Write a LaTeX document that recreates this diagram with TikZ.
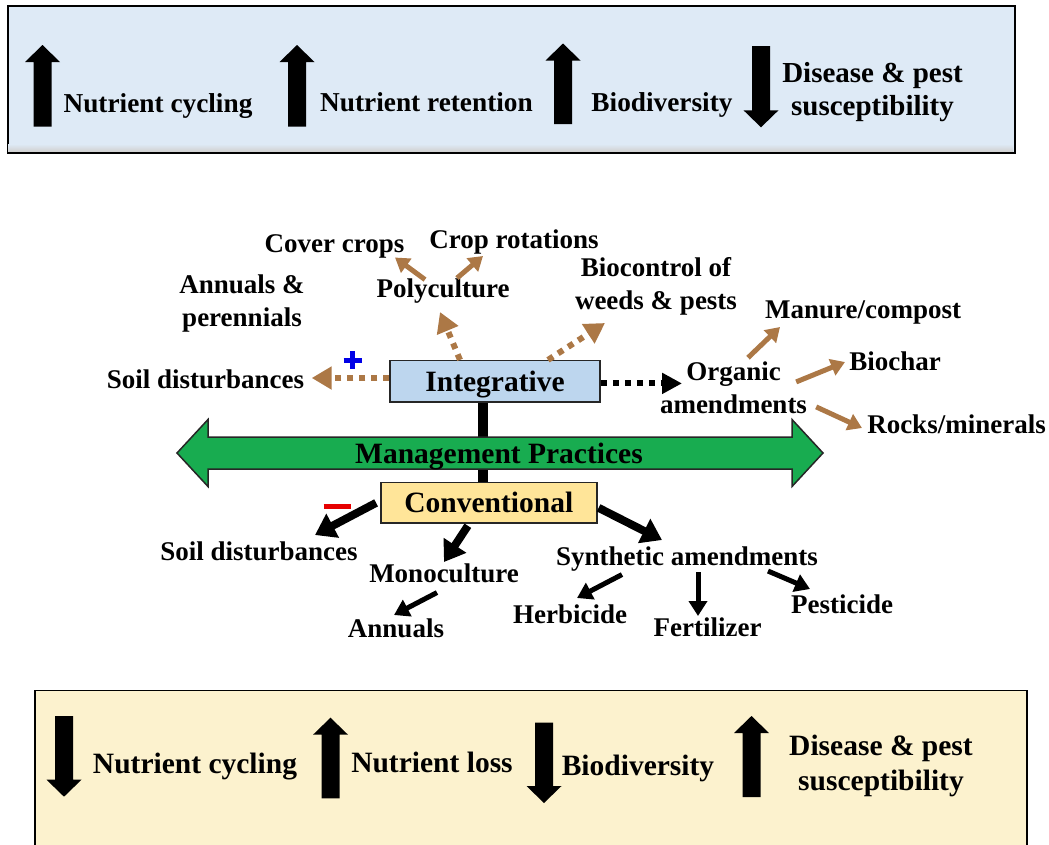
\documentclass[tikz,border=0pt]{standalone}
\usepackage{fontspec}
\setmainfont{Liberation Serif}
\usetikzlibrary{arrows.meta}
\definecolor{topblue}{RGB}{222,234,246}
\definecolor{intblue}{RGB}{189,214,238}
\definecolor{convyel}{RGB}{255,229,153}
\definecolor{botcream}{RGB}{252,242,206}
\definecolor{mgreen}{RGB}{24,172,80}
\definecolor{brownarr}{RGB}{172,120,70}
\definecolor{plusblue}{RGB}{0,0,230}
\definecolor{minusred}{RGB}{230,0,0}
% block arrows: x, tip y, tail y  /  x, top y, tip y
\newcommand{\blkup}[3]{\fill (#1-9,#3) -- (#1-9,#2+17) -- (#1-17.5,#2+17) -- (#1,#2) -- (#1+17.5,#2+17) -- (#1+9,#2+17) -- (#1+9,#3) -- cycle;}
\newcommand{\blkdown}[3]{\fill (#1-9,#2) -- (#1-9,#3-17) -- (#1-17.5,#3-17) -- (#1,#3) -- (#1+17.5,#3-17) -- (#1+9,#3-17) -- (#1+9,#2) -- cycle;}
\newcommand{\twolines}[2]{\begin{tabular}[t]{@{}c@{}}#1\\#2\end{tabular}}
\tikzset{
  lbl/.style={font=\fontsize{27}{33}\selectfont\bfseries, inner sep=0pt, anchor=base},
  lbltop/.style={lbl, font=\fontsize{27.3}{33}\selectfont\bfseries},
  lbltopb/.style={lbl, font=\fontsize{29}{33}\selectfont\bfseries},
  lblbot/.style={lbl, font=\fontsize{29.5}{35}\selectfont\bfseries},
  panel/.style={draw=black, line width=1.5pt, inner sep=0pt, anchor=north west},
  mbox/.style={draw=black!85, line width=1.5pt, inner sep=0pt, font=\fontsize{29.5}{35}\selectfont\bfseries},
  bdot/.style={brownarr, line width=6pt, dash pattern=on 6pt off 6pt, -{Triangle[length=20pt,width=22pt]}},
  kdot/.style={black, line width=6pt, dash pattern=on 6pt off 6pt, -{Triangle[length=20pt,width=20pt]}},
  barr/.style={brownarr, line width=5pt, -{Triangle[length=14pt,width=17pt]}},
  karr/.style={black, line width=8pt, -{Triangle[length=20pt,width=26pt]}},
  ksmall/.style={black, line width=5pt, -{Triangle[length=15pt,width=18pt]}}
}
\begin{document}
\begin{tikzpicture}[x=1pt,y=-1pt]
\useasboundingbox (0,0) rectangle (1049,844);
\clip (0,0) rectangle (1049,844);

% ---------- top panel ----------
\node[panel, fill=topblue, minimum width=1007pt, minimum height=147pt] (toppanel) at (7,5) {};
\shade[top color=topblue, bottom color=black!18] (8,144) rectangle (1013,151.2);
\blkup{42.5}{45}{126.7}
\blkup{297}{45}{126.7}
\blkup{563}{43.5}{124}
\blkdown{761}{46}{127.3}
\node[lbltop] (tnc) at (158,112) {Nutrient cycling};
\node[lbltop] (tnr) at (426.5,111) {Nutrient retention};
\node[lbltop] (tbd) at (662,111) {Biodiversity};
\node[lbltopb] (tds) at (872.5,82) {\twolines{Disease \& pest}{susceptibility}};

% ---------- bottom panel ----------
\node[panel, fill=botcream, minimum width=992pt, minimum height=200pt] (botpanel) at (34,689.5) {};
\blkdown{64}{716}{796.7}
\blkup{330.5}{717.7}{798.3}
\blkdown{544}{722.7}{803}
\blkup{751.5}{716}{797}
\node[lblbot] (bnc) at (195,773.5) {Nutrient cycling};
\node[lblbot] (bnl) at (432,772.5) {Nutrient loss};
\node[lblbot] (bbd) at (638,775) {Biodiversity};
\node[lblbot] (bds) at (881,755) {\twolines{Disease \& pest}{susceptibility}};

% ---------- central boxes ----------
\node[mbox, fill=intblue, minimum width=210pt, minimum height=41.5pt, text depth=0pt] (integ) at (495,381.4) {Integrative};
\node[mbox, fill=convyel, minimum width=216pt, minimum height=40.3pt] (conv) at (488.85,502.85) {Conventional};
\draw[line width=10pt] ([xshift=-12pt]integ.south) -- ([xshift=-5.85pt]conv.north);
\draw[fill=mgreen, draw=black!85, line width=1.5pt] (177,453) -- (208,419.5) -- (208,437) -- (792,437) -- (792,419.5) -- (823,453) -- (792,486.5) -- (792,469) -- (208,469) -- (208,486.5) -- cycle;
\node[lbl, font=\fontsize{29.5}{35}\selectfont\bfseries] (mp) at (499,463) {Management Practices};

% plus / minus
\draw[plusblue, line width=5pt] (343.5,360) -- (361.5,360) (352.5,351) -- (352.5,369);
\draw[minusred, line width=5.5pt] (323.5,506.5) -- (350.5,506.5);

% ---------- integrative side labels ----------
\node[lbl] (soilI) at (205.5,388) {Soil disturbances};
\node[lbl] (annp) at (242,293) {\twolines{Annuals \&}{perennials}};
\node[lbl] (poly) at (443,297) {Polyculture};
\node[lbl] (cover) at (334.5,252) {Cover crops};
\node[lbl] (rot) at (514,248) {Crop rotations};
\node[lbl] (bioc) at (656,276) {\twolines{Biocontrol of}{weeds \& pests}};
\node[lbl] (org) at (733.5,380) {\twolines{Organic}{amendments}};
\node[lbl] (manure) at (863,318) {Manure/compost};
\node[lbl] (biochar) at (895,370) {Biochar};
\node[lbl] (rocks) at (956.5,433) {Rocks/minerals};

\coordinate (tSoilI) at (311.7,378);
\coordinate (tPoly) at (440,312);
\coordinate (tBioc) at (605,323);
\coordinate (tOrg) at (682,383.4);
\coordinate (tCover) at (395,257.5);
\coordinate (tRot) at (483,256);
\coordinate (tManure) at (780,327);
\coordinate (tBiochar) at (845,362);
\coordinate (tRocks) at (862,428);

\draw[bdot] ([yshift=3.4pt]integ.west) -- (tSoilI);
\draw[bdot] ([xshift=-35pt]integ.north) -- (tPoly);
\draw[bdot] ([xshift=53pt]integ.north) -- (tBioc);
\draw[kdot] ([yshift=-2pt]integ.east) -- (tOrg);
\draw[barr] ([xshift=-18pt,yshift=-1.5pt]poly.north) -- (tCover);
\draw[barr] ([xshift=14pt]poly.north) -- (tRot);
\draw[barr] ([xshift=14.5pt,yshift=-1pt]org.north) -- (tManure);
\draw[barr] ([xshift=-11pt,yshift=8pt]org.east) -- (tBiochar);
\draw[barr] ([xshift=9pt,yshift=-17pt]org.east) -- (tRocks);

% ---------- conventional side labels ----------
\node[lbl] (soilC) at (259,560) {Soil disturbances};
\node[lbl] (mono) at (444,582) {Monoculture};
\node[lbl] (annC) at (396,637) {Annuals};
\node[lbl] (synth) at (687,565) {Synthetic amendments};
\node[lbl] (herb) at (570,623) {Herbicide};
\node[lbl] (fert) at (707.5,636) {Fertilizer};
\node[lbl] (pest) at (842,613.5) {Pesticide};

\coordinate (tSoilC) at (315,535);
\coordinate (tMono) at (444,562);
\coordinate (tSynth) at (662,540);
\coordinate (tAnn) at (394,615);
\coordinate (tHerb) at (577,598);
\coordinate (tFert) at (698,616);
\coordinate (tPest) at (810,589);

\draw[karr] ([xshift=-4pt]conv.west) -- (tSoilC);
\draw[karr] ([xshift=-21pt,yshift=-2pt]conv.south) -- (tMono);
\draw[karr] ([xshift=1pt,yshift=-5pt]conv.east) -- (tSynth);
\draw[ksmall] ([xshift=-7pt,yshift=-10pt]mono.south) -- (tAnn);
\draw[ksmall] ([xshift=-65pt,yshift=-3.5pt]synth.south) -- (tHerb);
\draw[ksmall] ([xshift=11pt,yshift=-1pt]synth.south) -- (tFert);
\draw[ksmall] ([xshift=81pt]synth.south) -- (tPest);
\end{tikzpicture}
\end{document}
